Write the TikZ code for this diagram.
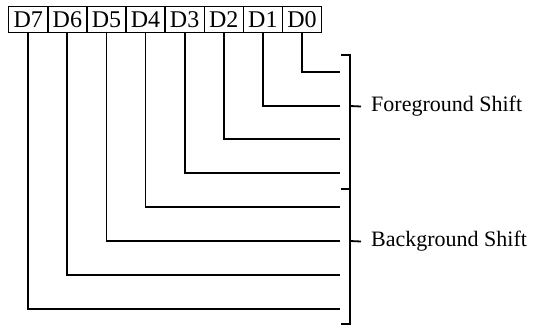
\documentclass[tikz,border=0pt]{standalone}
\usepackage{fontspec}
\setmainfont{Liberation Serif}
\begin{document}
\begin{tikzpicture}[x=1pt,y=-1pt,
  bitbox/.style={draw,line width=1.4pt,minimum width=39.1pt,minimum height=26pt,inner sep=0pt,font=\fontsize{24}{26}\selectfont,anchor=north west},
  wire/.style={line width=1.8pt},
  lbl/.style={font=\fontsize{22}{24}\selectfont,anchor=west,inner sep=0pt}]
\useasboundingbox (0,0) rectangle (541,326);
\foreach \i/\n in {0/7,1/6,2/5,3/4,4/3,5/2,6/1,7/0}{
  \node[bitbox] (d\n) at ({8+39.1*\i},6) {D\n};
}
\foreach \n/\y in {0/72,1/106,2/139,3/173,4/207,5/241,6/275,7/309}{
  \coordinate (e\n) at (340,\y);
  \draw[wire] (d\n.south) |- (e\n);
}
% brackets
\coordinate (bt) at (341,55);
\coordinate (bm) at (341,189);
\coordinate (bb) at (341,324);
\draw[wire] (bt) -| (350,189) |- (bb);
\draw[wire] (bm) -- (350,189);
\node[lbl] (fg) at (371,106.5) {Foreground Shift};
\node[lbl] (bg) at (371,241.5) {Background Shift};
\draw[wire] (350,106) -- (fg.west -| 361,0);
\draw[wire] (350,241) -- (bg.west -| 361,0);
\end{tikzpicture}
\end{document}
